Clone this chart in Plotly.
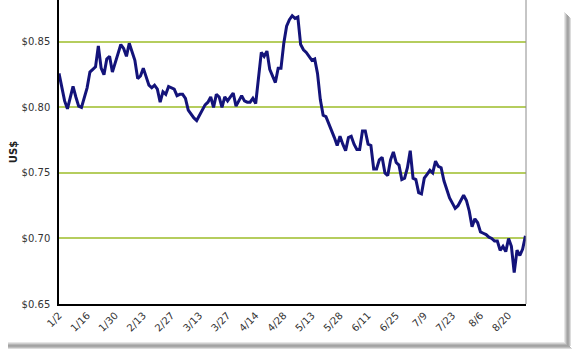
import plotly.graph_objects as go

# Daily values (US$)
values = [
    0.826, 0.815, 0.805, 0.799, 0.807, 0.816, 0.808, 0.801, 0.800, 0.808,
    0.815, 0.827, 0.829, 0.831, 0.847, 0.830, 0.825, 0.837, 0.839, 0.827,
    0.834, 0.842, 0.848, 0.845, 0.839, 0.849, 0.843, 0.836, 0.822, 0.824,
    0.830, 0.823, 0.817, 0.815, 0.817, 0.814, 0.804, 0.812, 0.810, 0.816,
    0.815, 0.814, 0.809, 0.810, 0.810, 0.807, 0.798, 0.795, 0.792, 0.790,
    0.794, 0.798, 0.802, 0.804, 0.808, 0.800, 0.810, 0.808, 0.800, 0.808,
    0.805, 0.808, 0.811, 0.801, 0.805, 0.809, 0.805, 0.804, 0.804, 0.807,
    0.803, 0.823, 0.842, 0.839, 0.843, 0.829, 0.824, 0.819, 0.830, 0.830,
    0.849, 0.862, 0.867, 0.870, 0.868, 0.869, 0.848, 0.844, 0.842, 0.839,
    0.836, 0.837, 0.826, 0.806, 0.794, 0.793, 0.788, 0.783, 0.777, 0.771,
    0.778, 0.772, 0.767, 0.777, 0.778, 0.772, 0.768, 0.768, 0.782, 0.782,
    0.772, 0.771, 0.753, 0.753, 0.760, 0.762, 0.750, 0.748, 0.760, 0.766,
    0.758, 0.756, 0.745, 0.746, 0.754, 0.767, 0.746, 0.745, 0.735, 0.734,
    0.746, 0.749, 0.752, 0.750, 0.759, 0.755, 0.754, 0.744, 0.738, 0.731,
    0.727, 0.723, 0.725, 0.729, 0.733, 0.729, 0.721, 0.709, 0.715, 0.712,
    0.705, 0.704, 0.703, 0.701, 0.700, 0.698, 0.698, 0.691, 0.694, 0.690,
    0.700, 0.694, 0.674, 0.691, 0.687, 0.692, 0.702,
]
day_index = list(range(len(values)))

tick_labels = ["1/2", "1/16", "1/30", "2/13", "2/27", "3/13", "3/27", "4/14",
               "4/28", "5/13", "5/28", "6/11", "6/25", "7/9", "7/23", "8/6", "8/20"]
tick_positions = [i * 10 for i in range(len(tick_labels))]

y_ticks = [0.65, 0.70, 0.75, 0.80, 0.85]
y_tick_labels = ["$0.65", "$0.70", "$0.75", "$0.80", "$0.85"]

fig = go.Figure()
fig.add_trace(go.Scatter(
    x=day_index, y=values, mode="lines",
    line=dict(color="#13137a", width=3),
    hoverinfo="skip", showlegend=False,
))

# plot area in pixels: x 59..526, y 0..304
W, H = 582, 358
L, R, T, B = 59, 526, 0, 304
def px(xp):
    return (xp - L) / (R - L)
def py(yp):
    return (B - yp) / (B - T)

shapes = []
# drop shadow (right side and bottom)
shadow_cols = ["#e6e6e6", "#cfcfcf", "#b5b5b5", "#a3a3a3", "#a8a8a8", "#bdbdbd", "#dcdcdc"]
for k, c in enumerate(shadow_cols):
    shapes.append(dict(type="rect", xref="paper", yref="paper",
                       x0=px(564 + k), x1=px(565 + k), y0=py(346), y1=py(12 + k),
                       fillcolor=c, line=dict(width=0), layer="below"))
    shapes.append(dict(type="rect", xref="paper", yref="paper",
                       x0=px(8), x1=px(566 + k), y0=py(343 + k), y1=py(342 + k),
                       fillcolor=c, line=dict(width=0), layer="below"))
# right border of plot area
shapes.append(dict(type="line", xref="paper", yref="paper", x0=1, x1=1, y0=0, y1=1,
                   line=dict(color="#8c8c8c", width=1)))

fig.update_layout(
    width=W, height=H,
    margin=dict(l=L, r=W - R, t=T, b=H - B),
    paper_bgcolor="white", plot_bgcolor="white",
    font=dict(family="DejaVu Sans", size=10, color="#333333"),
    shapes=shapes,
    xaxis=dict(
        range=[0, 166.2], tickmode="array", tickvals=tick_positions, ticktext=tick_labels,
        tickangle=-45, showgrid=False, zeroline=False,
        showline=True, linecolor="black", linewidth=1.5, ticks="",
        tickfont=dict(size=10, color="#333333"),
    ),
    yaxis=dict(
        range=[0.65, 0.882], tickmode="array", tickvals=y_ticks, ticktext=y_tick_labels,
        showgrid=True, gridcolor="#b5cd5e", gridwidth=1.5, zeroline=False,
        showline=True, linecolor="black", linewidth=1.5, ticks="",
        ticklabelstandoff=5,
        tickfont=dict(size=10, color="#333333"),
        title=dict(text="<b>US$</b>", font=dict(size=10, color="#222222"), standoff=2),
    ),
)

fig.write_html(
    "out.html",
    config={"displayModeBar": False},
    post_script="document.body.style.margin='0';document.body.style.overflow='hidden';",
)
